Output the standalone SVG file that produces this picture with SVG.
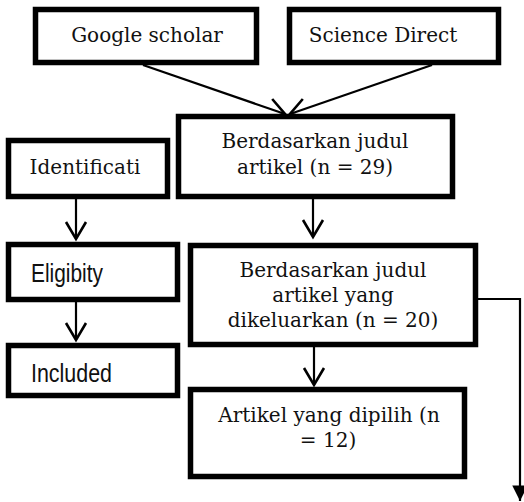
<svg xmlns="http://www.w3.org/2000/svg" width="524" height="502" viewBox="0 0 524 502">
<defs>
<style>
.box{fill:#fff;stroke:#000;stroke-width:5.5}
.serif{font-family:"DejaVu Serif","Liberation Serif",serif;font-size:20px;fill:#111}
.sans{font-family:"Liberation Sans",Arial,sans-serif;font-size:26px;fill:#111}
.conn{fill:none;stroke:#000;stroke-width:2.2}
</style>
<marker id="open" markerUnits="userSpaceOnUse" markerWidth="24" markerHeight="24" refX="0" refY="0" viewBox="-18 -12 20 24" orient="auto" overflow="visible">
<path d="M-17,-10 L0,0 L-17,10" fill="none" stroke="#000" stroke-width="2.6"/>
</marker>
<marker id="filled" markerUnits="userSpaceOnUse" markerWidth="20" markerHeight="20" refX="0" refY="0" viewBox="-16 -8 18 16" orient="auto" overflow="visible">
<path d="M-14,-7 L0,0 L-14,7 Z" fill="#000"/>
</marker>
</defs>
<rect width="524" height="502" fill="#fff"/>
<g id="connectors">
<line class="conn" x1="143" y1="65" x2="285" y2="114" marker-end="url(#open)"/>
<line class="conn" x1="432" y1="65" x2="290" y2="114" marker-end="url(#open)"/>
<line class="conn" x1="313" y1="199" x2="313" y2="237" marker-end="url(#open)"/>
<line class="conn" x1="76" y1="199" x2="76" y2="239" marker-end="url(#open)"/>
<line class="conn" x1="76" y1="302" x2="76" y2="340" marker-end="url(#open)"/>
<line class="conn" x1="314" y1="347" x2="314" y2="385" marker-end="url(#open)"/>
<polyline class="conn" points="478,299 520,299 520,501" marker-end="url(#filled)"/>
</g>
<g id="google-scholar">
<rect class="box" x="35.5" y="9.5" width="221" height="53"/>
<text class="serif" x="147" y="42" text-anchor="middle">Google scholar</text>
</g>
<g id="science-direct">
<rect class="box" x="289.5" y="9.5" width="209" height="53"/>
<text class="serif" x="383" y="42" text-anchor="middle">Science Direct</text>
</g>
<g id="berdasarkan-judul">
<rect class="box" x="178.5" y="116.5" width="274" height="80"/>
<text class="serif" x="315" y="148" text-anchor="middle">Berdasarkan judul</text>
<text class="serif" x="315" y="174" text-anchor="middle">artikel (n = 29)</text>
</g>
<g id="identificati">
<rect class="box" x="8.5" y="140.5" width="159" height="56"/>
<text class="serif" x="85" y="174" text-anchor="middle">Identificati</text>
</g>
<g id="eligibity">
<rect class="box" x="8.5" y="244.5" width="169" height="55"/>
<text class="sans" x="31" y="282" textLength="72" lengthAdjust="spacingAndGlyphs">Eligibity</text>
</g>
<g id="included">
<rect class="box" x="8.5" y="345.5" width="169" height="50"/>
<text class="sans" x="31" y="382" textLength="81" lengthAdjust="spacingAndGlyphs">Included</text>
</g>
<g id="dikeluarkan">
<rect class="box" x="190.5" y="245.5" width="285" height="99"/>
<text class="serif" x="333" y="277" text-anchor="middle">Berdasarkan judul</text>
<text class="serif" x="333" y="302" text-anchor="middle">artikel yang</text>
<text class="serif" x="333" y="327" text-anchor="middle">dikeluarkan (n = 20)</text>
</g>
<g id="dipilih">
<rect class="box" x="190.5" y="389.5" width="274" height="87"/>
<text class="serif" x="329" y="422" text-anchor="middle">Artikel yang dipilih (n</text>
<text class="serif" x="328" y="447" text-anchor="middle">= 12)</text>
</g>
</svg>
